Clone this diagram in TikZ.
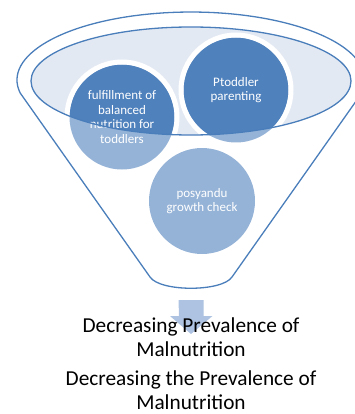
\documentclass[tikz,border=0pt]{standalone}
\usepackage{fontspec}
\setmainfont{Carlito}
\usepackage{tikz}
\usetikzlibrary{calc}
\definecolor{edge}{HTML}{4A7EBB}
\definecolor{dark}{HTML}{4F81BD}
\definecolor{light}{HTML}{95B3D7}
\definecolor{bowl}{HTML}{E3E9F3}
\definecolor{arrowfill}{HTML}{AEC3E2}
\tikzset{
  outline/.style={draw=edge, line width=1.3pt},
  ring/.style={draw=white, line width=5pt},
  bubbletext/.style={text=white, align=center, inner sep=0pt, font=\fontsize{13}{14.5}\selectfont},
  result/.style={text=black, align=center, inner sep=0pt, font=\fontsize{21.3}{24.5}\selectfont}
}

\begin{document}
\begin{tikzpicture}[x=1pt,y=-1pt]
\useasboundingbox (0,0) rectangle (354,414);
\coordinate (top) at (191,80);
\coordinate (c1) at (122,117);
\coordinate (c2) at (236,90);
\coordinate (c3) at (202,201);
\coordinate (spout) at (191,300);

\draw[outline] (20.2,93) arc[start angle=169, end angle=371, x radius=174, y radius=68]
  -- (232,277) .. controls (222,292) and (160,292) .. (150,277) -- cycle;
\fill[bowl] (191,81) ellipse[x radius=160, y radius=54];

\fill[light] (c1) circle[radius=52.5];
\fill[light] (c2) circle[radius=52.5];
\fill[light] (c3) circle[radius=53];
\begin{scope}
\clip (191,81) ellipse[x radius=160, y radius=54];
\fill[dark] (c1) circle[radius=52.5];
\fill[dark] (c2) circle[radius=52.5];
\draw[ring] (c1) circle[radius=55];
\draw[ring] (c2) circle[radius=55];
\end{scope}

\node[bubbletext] (nutrition) at (c1) {fulfillment of\\balanced\\nutrition for\\toddlers};
\node[bubbletext] (parenting) at (c2) {Ptoddler\\parenting};
\node[bubbletext] (posyandu) at (c3) {posyandu\\growth check};

\draw[outline] (191,81) ellipse[x radius=160, y radius=54];

\fill[arrowfill] ($(spout)+(-12.5,0)$) -- ++(25,0) -- ++(0,16) -- ++(9,0)
  -- ($(spout)+(0,34)$) -- ($(spout)+(-21,16)$) -- ++(9,0) -- cycle;

\node[result] (first) at (191,337) {Decreasing Prevalence of\\Malnutrition};
\node[result] (second) at (191,390) {Decreasing the Prevalence of\\Malnutrition};
\end{tikzpicture}
\end{document}
